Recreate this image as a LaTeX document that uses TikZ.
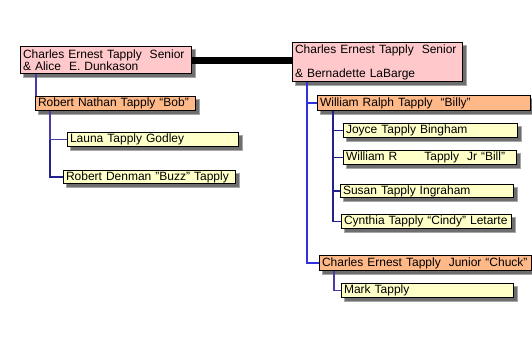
\documentclass[tikz,border=0pt]{standalone}
\usepackage{fontspec}
\setmainfont{Liberation Sans}
\usetikzlibrary{backgrounds}

\definecolor{couplepink}{HTML}{FFC8CB}
\definecolor{childorange}{HTML}{FFB888}
\definecolor{grandyellow}{HTML}{FFFFC8}
\definecolor{trunkblue}{HTML}{3030DC}
\definecolor{branchnavy}{HTML}{22228E}
\definecolor{branchpurple}{HTML}{4A3CA8}
\definecolor{shadowgray}{HTML}{6E6E6E}

\begin{document}
\begin{tikzpicture}[
    x=1pt, y=-1pt,
    famnode/.style={rectangle, draw=black, line width=1.1pt, anchor=north west,
                    inner xsep=2.5pt, inner ysep=0pt, align=left,
                    font=\fontsize{12}{11}\selectfont},
    couplebox/.style={famnode, fill=couplepink},
    childbox/.style={famnode, fill=childorange},
    grandbox/.style={famnode, fill=grandyellow},
    boxshadow/.style={fill=shadowgray, draw=shadowgray!60, line width=1pt},
    trunk/.style={line width=1.5pt, draw=trunkblue},
    branch/.style={line width=1.5pt, draw=branchnavy},
    leftline/.style={line width=1.5pt, draw=branchpurple},
    marriage/.style={line width=7pt, draw=black},
]
\useasboundingbox (0,0) rectangle (532,343);

% --- Couples ---
\node[couplebox, minimum width=171pt, minimum height=27pt, text width=166pt] (senior1) at (20,46)
    {Charles Ernest Tapply~ Senior\\\& Alice~ E. Dunkason};
\node[couplebox, minimum width=170pt, minimum height=39pt, text width=165pt] (senior2) at (292,42)
    {Charles Ernest Tapply~ Senior\\[12pt]\& Bernadette LaBarge};

% --- Marriage bar ---
\draw[marriage] ([yshift=-0.5pt]senior1.east) -- ([yshift=-0.5pt]senior1.east -| senior2.west);

% --- Children ---
\node[childbox, minimum width=160pt, minimum height=14pt, text width=155pt] (bob) at (35,96)
    {Robert Nathan Tapply “Bob”};
\node[childbox, minimum width=213pt, minimum height=15pt, text width=208pt] (billy) at (317,95)
    {William Ralph Tapply~ “Billy”};
\node[childbox, minimum width=212pt, minimum height=15pt, text width=207pt] (chuck) at (319,255)
    {Charles Ernest Tapply~ Junior “Chuck”};

% --- Grandchildren ---
\node[grandbox, minimum width=171pt, minimum height=14pt, text width=166pt] (launa) at (67,132)
    {Launa Tapply Godley};
\node[grandbox, minimum width=172pt, minimum height=13pt, text width=167pt] (buzz) at (63,170)
    {Robert Denman "Buzz" Tapply};
\node[grandbox, minimum width=174pt, minimum height=14pt, text width=169pt] (joyce) at (343,123)
    {Joyce Tapply Bingham};
\node[grandbox, minimum width=173pt, minimum height=14pt, text width=168pt] (billjr) at (343,150)
    {William R\hspace{27pt}Tapply~ Jr “Bill”};
\node[grandbox, minimum width=173pt, minimum height=13pt, text width=168pt] (susan) at (340,184)
    {Susan Tapply Ingraham};
\node[grandbox, minimum width=170pt, minimum height=14pt, text width=165pt] (cindy) at (341,214)
    {Cynthia Tapply “Cindy” Letarte};
\node[grandbox, minimum width=172pt, minimum height=14pt, text width=167pt] (mark) at (341,283)
    {Mark Tapply};

% --- Shadows behind the boxes ---
\begin{scope}[on background layer]
  \foreach \n in {senior1, senior2, bob, billy, chuck, launa, buzz, joyce, billjr, susan, cindy, mark}
    \fill[boxshadow] ([shift={(3,3)}]\n.north west) rectangle ([shift={(3,3)}]\n.south east);
\end{scope}

% --- Descent lines ---
\draw[leftline] ([xshift=16pt]senior1.south west) -- ([xshift=1pt]bob.north west);
\draw[branch] ([xshift=15pt]bob.south west) |- (buzz.west);
\draw[leftline] ([xshift=15pt]bob.south west) |- (launa.west);

\draw[trunk] ([xshift=15pt]senior2.south west) |- (chuck.west);
\draw[trunk] ([xshift=15pt]senior2.south west) |- (billy.west);

\draw[branch] ([xshift=16pt]billy.south west) |- (cindy.west);
\draw[branch] ([xshift=16pt]billy.south west) |- (joyce.west);
\draw[branch] ([xshift=16pt]billy.south west) |- (billjr.west);
\draw[branch] ([xshift=16pt]billy.south west) |- (susan.west);

\draw[leftline] ([xshift=15pt]chuck.south west) |- (mark.west);

\end{tikzpicture}
\end{document}
